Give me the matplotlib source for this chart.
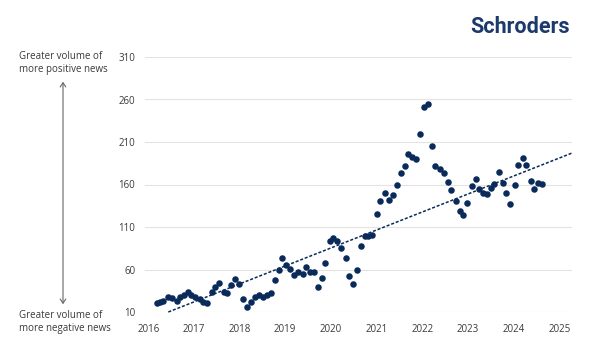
import numpy as np
import matplotlib
matplotlib.use("Agg")
import matplotlib.pyplot as plt

plt.rcParams['font.family'] = ['Open Sans', 'DejaVu Sans']

# dates as decimal years
years = [2016.19, 2016.26, 2016.33, 2016.44, 2016.53, 2016.63, 2016.70, 2016.79, 2016.87, 2016.94,
         2017.03, 2017.13, 2017.21, 2017.28, 2017.39, 2017.47, 2017.55, 2017.65, 2017.72, 2017.82,
         2017.89, 2017.98, 2018.08, 2018.16, 2018.25, 2018.34, 2018.42, 2018.51, 2018.60, 2018.68,
         2018.77, 2018.87, 2018.93, 2019.02, 2019.11, 2019.20, 2019.28, 2019.38, 2019.46, 2019.54,
         2019.63, 2019.71, 2019.80, 2019.88, 2019.97, 2020.05, 2020.13, 2020.23, 2020.33, 2020.40,
         2020.49, 2020.58, 2020.66, 2020.75, 2020.82, 2020.89, 2021.00, 2021.08, 2021.18, 2021.28,
         2021.35, 2021.44, 2021.53, 2021.63, 2021.69, 2021.78, 2021.86, 2021.95, 2022.03, 2022.12,
         2022.21, 2022.29, 2022.38, 2022.48, 2022.57, 2022.64, 2022.73, 2022.83, 2022.90, 2022.99,
         2023.08, 2023.17, 2023.25, 2023.33, 2023.42, 2023.50, 2023.58, 2023.68, 2023.76, 2023.84,
         2023.93, 2024.03, 2024.10, 2024.20, 2024.28, 2024.38, 2024.45, 2024.53, 2024.63]
values = [21, 21.5, 23, 28, 26, 23.4, 27.4, 30, 33, 30,
          27.4, 25, 22, 21, 34, 39, 44, 34, 32, 42,
          48.7, 43, 25.4, 15.6, 22.2, 27.4, 30, 27.4, 30, 32,
          47.9, 58.9, 73.5, 65.6, 60.5, 53.8, 56.5, 55, 62.9, 56.5,
          56.5, 40, 49.9, 67.6, 93.2, 97.2, 94, 85.4, 73.5, 51.8,
          42.8, 59.7, 88, 99, 100, 101, 124.8, 140.5, 149.6, 141.7,
          147.3, 159, 173.3, 182, 195.8, 191.8, 190, 219.5, 251, 255,
          205, 182, 178, 173.3, 163, 153.6, 140.5, 128.7, 123.6, 137.8,
          158.3, 167, 155.2, 150.5, 148.5, 156.4, 160.3, 174.9, 162.3, 150.5,
          136.6, 159, 182.8, 190.7, 183.2, 164.2, 155.2, 162.3, 161]

# trend line end points
trend_x = [2016.44, 2025.28]
trend_y = [10, 197]

yticks = [10, 60, 110, 160, 210, 260, 310]
xticks = list(range(2016, 2026))

navy = '#0a2b5a'
grid_col = '#e3e3e3'
txt_col = '#3a3a3a'

fig = plt.figure(figsize=(6, 3.56), dpi=100)
ax = fig.add_axes([145/600, 1 - 312/356, 427/600, 255/356])

ax.scatter(years, values, s=22, color=navy, zorder=3, clip_on=False, linewidths=0)
ax.plot(trend_x, trend_y, color=navy, lw=1.1, ls=(0, (2, 1.2)), zorder=2, clip_on=False)

ax.set_xlim(2015.93, 2025.28)
ax.set_ylim(10, 310)
ax.set_yticks(yticks)
ax.set_xticks(xticks)
ax.set_yticklabels([str(t) for t in yticks], fontsize=7, color=txt_col)
ax.set_xticklabels([str(t) for t in xticks], fontsize=7, color=txt_col)
ax.tick_params(axis='both', length=0)
ax.tick_params(axis='y', pad=7)
ax.tick_params(axis='x', pad=9)
ax.yaxis.grid(True, color=grid_col, lw=0.8)
ax.set_axisbelow(True)
for sp in ax.spines.values():
    sp.set_visible(False)

# side annotations
fig.text(19/600, 1 - 63/356, 'Greater volume of\nmore positive news', fontsize=7,
         color=txt_col, ha='left', va='center', linespacing=1.25)
fig.text(19/600, 1 - 322/356, 'Greater volume of\nmore negative news', fontsize=7,
         color=txt_col, ha='left', va='center', linespacing=1.25)
fig.add_artist(matplotlib.patches.FancyArrowPatch(
    (63/600, 1 - 79/356), (63/600, 1 - 307/356), transform=fig.transFigure,
    arrowstyle='<->,head_length=3,head_width=2', color='#666666', lw=0.8))

# logo
fig.text(570/600, 1 - 27/356, 'Schroders', fontsize=15.5, fontweight='bold',
         color='#1b3a6b', ha='right', va='center', family=['Roboto', 'DejaVu Sans'])

fig.savefig('out.png', dpi=100)
